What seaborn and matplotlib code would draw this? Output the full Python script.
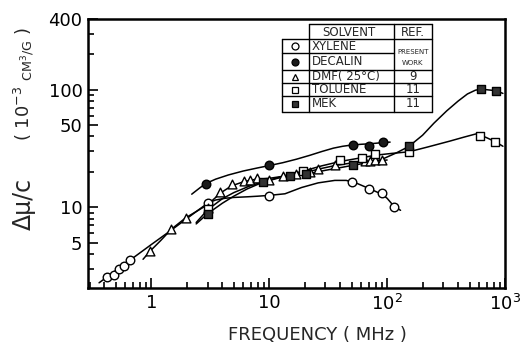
import numpy as np
import pandas as pd
import matplotlib
matplotlib.use("Agg")
import matplotlib.pyplot as plt
import seaborn as sns
from matplotlib.lines import Line2D
from matplotlib.ticker import FixedLocator, NullFormatter

# ---------------- data ----------------
# measured points
xylene_f = [0.42, 0.48, 0.53, 0.59, 0.66, 3.0, 10, 50, 70, 90, 114]
xylene_v = [2.52, 2.67, 3.0, 3.16, 3.53, 10.9, 12.5, 16.3, 14.3, 13.2, 10.1]

decalin_f = [2.9, 10, 51, 70, 92]
decalin_v = [15.9, 22.7, 34.0, 33.1, 35.7]

dmf_f = [0.97, 1.48, 1.95, 3.0, 3.8, 4.8, 6.1, 6.9, 7.8, 9.9, 13, 17, 22, 26, 36, 65, 72, 79, 91]
dmf_v = [4.2, 6.5, 8.1, 9.8, 13.5, 15.6, 16.6, 17.0, 17.6, 17.0, 18.3, 19.3, 19.9, 21.3, 22.7, 24.7, 24.5, 25.0, 25.0]

toluene_f = [3.0, 19.4, 40, 61, 79, 153, 619, 830]
toluene_v = [9.7, 20.3, 25.0, 26.2, 28.5, 29.4, 40.5, 35.6]

mek_f = [3.0, 8.8, 14.9, 20.7, 51, 153, 620, 840]
mek_v = [8.8, 16.4, 18.3, 19.0, 22.7, 32.9, 101, 98]

# hand-drawn guide curves
xylene_cf = [0.36, 0.5, 0.7, 1.0, 1.5, 2.0, 2.5, 3.0, 3.5, 4.2, 5, 6.5, 8, 10, 13.6, 18.8, 26, 36, 45, 55, 65, 75, 90, 100, 114, 130]
xylene_cv = [2.27, 2.89, 3.70, 4.81, 6.45, 8.0, 9.45, 10.8, 11.5, 11.9, 12.1, 12.25, 12.4, 12.6, 13.0, 14.7, 16.1, 16.9, 16.9, 16.0, 14.9, 14.0, 12.9, 11.9, 10.2, 9.4]

decalin_cf = [2.2, 2.6, 2.9, 3.5, 4.5, 6, 8, 10, 13, 17, 22, 28, 35, 42, 50, 60, 70, 80, 92, 106]
decalin_cv = [12.9, 14.7, 15.9, 17.3, 18.8, 20.3, 21.6, 22.6, 23.9, 25.6, 27.6, 29.8, 31.8, 33.0, 33.8, 34.3, 34.6, 35.0, 35.5, 35.8]

dmf_cf = [0.85, 0.97, 1.2, 1.48, 1.95, 2.5, 3.0, 3.9, 4.8, 6.1, 7.5, 10, 13, 17, 22, 28, 36, 50, 70, 90, 100]
dmf_cv = [3.6, 4.2, 5.2, 6.5, 8.1, 9.4, 10.5, 13.3, 15.2, 16.5, 17.2, 17.6, 18.3, 19.1, 20.2, 21.4, 22.6, 23.8, 24.6, 25.0, 25.2]

toluene_cf = [2.4, 3.0, 4, 5, 7, 10, 14, 19.4, 28, 40, 60, 80, 110, 153, 220, 340, 450, 565, 620, 700, 830, 960]
toluene_cv = [7.4, 9.5, 11.8, 13.3, 15.3, 17.0, 18.7, 20.3, 22.5, 24.5, 26.3, 27.7, 28.7, 29.6, 32.5, 36.5, 39.5, 42.0, 41.0, 39.0, 36.0, 33.0]

mek_cf = [2.4, 3.0, 4, 5, 6.5, 8.8, 12, 15, 21, 30, 40, 51, 70, 90, 120, 153, 200, 250, 320, 400, 480, 560, 620, 700, 840, 960]
mek_cv = [7.2, 8.8, 10.8, 12.4, 14.3, 16.3, 17.7, 18.4, 19.2, 20.6, 21.7, 22.7, 24.0, 25.5, 29.0, 32.9, 41.0, 52.0, 66.0, 80.0, 92.0, 99.0, 101.0, 100.0, 98.0, 93.0]

x_ticks = [1, 10, 100, 1000]
x_tick_labels = ["1", "10", "10$^2$", "10$^3$"]
y_ticks = [5, 10, 50, 100, 400]
y_tick_labels = ["5", "10", "50", "100", "400"]

legend_names = ["XYLENE", "DECALIN", "DMF( 25°C)", "TOLUENE", "MEK"]
legend_refs = ["9", "11", "11"]

# ---------------- style ----------------
sns.set_style("ticks")
plt.rcParams['font.family'] = ['DejaVu Sans']
plt.rcParams['mathtext.fontset'] = 'dejavusans'

W, H = 522, 349
fig = plt.figure(figsize=(W / 100, H / 100), dpi=100)
ax = fig.add_axes([88 / W, 1 - 288 / H, (505 - 88) / W, (288 - 19) / H])
ax.set_xscale('log')
ax.set_yscale('log')

curves = [(xylene_cf, xylene_cv), (decalin_cf, decalin_cv), (dmf_cf, dmf_cv),
          (toluene_cf, toluene_cv), (mek_cf, mek_cv)]
for cf, cv in curves:
    sns.lineplot(x=cf, y=cv, ax=ax, color='black', lw=1.1, sort=False,
                 estimator=None, zorder=2)

pt_kw = dict(ax=ax, edgecolor='black', linewidth=1.0, zorder=3, legend=False)
sns.scatterplot(x=xylene_f, y=xylene_v, marker='o', s=38, facecolor='white', **pt_kw)
sns.scatterplot(x=decalin_f, y=decalin_v, marker='o', s=38, facecolor='#1a1a1a', **pt_kw)
sns.scatterplot(x=dmf_f, y=dmf_v, marker='^', s=40, facecolor='white', **pt_kw)
sns.scatterplot(x=toluene_f, y=toluene_v, marker='s', s=26, facecolor='white', **pt_kw)
sns.scatterplot(x=mek_f, y=mek_v, marker='s', s=26, facecolor='#333333', **pt_kw)

ax.set_xlim(0.29, 1000)
ax.set_ylim(2.05, 400)

ax.xaxis.set_major_locator(FixedLocator(x_ticks))
ax.set_xticklabels(x_tick_labels)
xmin = [m * 10.0 ** e for e in range(-1, 3) for m in range(2, 10)]
ax.xaxis.set_minor_locator(FixedLocator([v for v in xmin if 0.29 < v < 1000]))
ax.xaxis.set_minor_formatter(NullFormatter())

ax.yaxis.set_major_locator(FixedLocator(y_ticks))
ax.set_yticklabels(y_tick_labels)
ymin = [m * 10.0 ** e for e in range(0, 3) for m in range(2, 10)]
ax.yaxis.set_minor_locator(FixedLocator([v for v in ymin if 2.05 < v < 400 and v not in y_ticks]))
ax.yaxis.set_minor_formatter(NullFormatter())

ax.tick_params(which='both', direction='in', top=False, right=False, width=1.2, colors='black')
ax.tick_params(which='major', length=7, labelsize=13, pad=4)
ax.tick_params(which='minor', length=4)
for s in ax.spines.values():
    s.set_linewidth(1.8)
    s.set_color('black')
ax.set_xlabel("")
ax.set_ylabel("")

def P(x, y):
    return (x / W, 1 - y / H)

fig.text(*P(317, 335), "FREQUENCY ( MHz )", ha='center', va='center', fontsize=13)
fig.text(*P(24, 204), "Δμ/c", ha='center', va='center', rotation=90, fontsize=17)
fig.text(*P(24, 84), r"( 10$^{-3}$ $\mathregular{_{CM^{3}/G}}$ )", ha='center', va='center',
         rotation=90, fontsize=13)

# ---------------- legend table ----------------
def hline(x0, x1, y, lw=1.0):
    fig.add_artist(Line2D([x0 / W, x1 / W], [1 - y / H, 1 - y / H], color='black', lw=lw))

def vline(x, y0, y1, lw=1.0):
    fig.add_artist(Line2D([x / W, x / W], [1 - y0 / H, 1 - y1 / H], color='black', lw=lw))

xa, xb, xc, xd = 281.7, 309.3, 394.3, 431.7
ya, yb, yc1, yc, ydd, ye, yf = 24, 39.3, 53.3, 70, 83.3, 96, 111.7
hline(xb, xd, ya)
hline(xa, xd, yb)
hline(xa, xc, yc1)
hline(xa, xd, yc)
hline(xa, xd, ydd)
hline(xa, xd, ye)
hline(xa, xd, yf)
vline(xa, yb, yf)
vline(xb, ya, yf)
vline(xc, ya, yf)
vline(xd, ya, yf)

fig.text(*P(349, 32), "SOLVENT", ha='center', va='center', fontsize=8.5)
fig.text(*P(413, 32), "REF.", ha='center', va='center', fontsize=8.5)
row_y = [46.3, 61.7, 76.7, 89.7, 103.7]
sym = [('o', 'white'), ('o', '#1a1a1a'), ('^', 'white'), ('s', 'white'), ('s', '#333333')]
for (m, fc), name, ry in zip(sym, legend_names, row_y):
    fig.add_artist(Line2D([295 / W], [1 - ry / H], marker=m, markersize=5 if m != 's' else 4.5,
                          markerfacecolor=fc, markeredgecolor='black', markeredgewidth=0.9, lw=0))
    fig.text(*P(312, ry), name, ha='left', va='center', fontsize=8.5)
fig.text(*P(413, 52), "PRESENT", ha='center', va='center', fontsize=5)
fig.text(*P(413, 63), "WORK", ha='center', va='center', fontsize=5)
for ref, ry in zip(legend_refs, row_y[2:]):
    fig.text(*P(413, ry), ref, ha='center', va='center', fontsize=8.5)

fig.savefig("out.png", dpi=100)
